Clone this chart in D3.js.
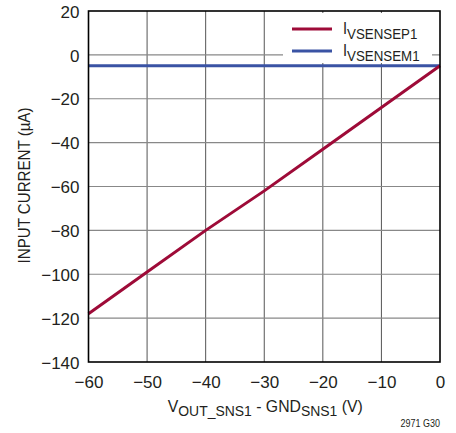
<!DOCTYPE html>
<html>
<head>
<meta charset="utf-8">
<script src="https://cdn.jsdelivr.net/npm/d3@7"></script>
<style>
  body { margin: 0; background: #fff; }
  text { font-family: "Liberation Sans Narrow", "Arial Narrow", "Liberation Sans", sans-serif; fill: #231f20; }
</style>
</head>
<body>
<script>
var voltage = [-60, -50, -40, -30, -20, -10, 0];
var iSenseP = [-118, -99, -80, -62, -43, -24, -5];
var iSenseM = [-5, -5, -5, -5, -5, -5, -5];
var xTicks = [-60, -50, -40, -30, -20, -10, 0];
var yTicks = [-140, -120, -100, -80, -60, -40, -20, 0, 20];

var svg = d3.select("body").append("svg").attr("width", 456).attr("height", 433),
    margin = {top: 11, right: 16, bottom: 71, left: 88.5},
    width = 456 - margin.left - margin.right,
    height = 433 - margin.top - margin.bottom,
    g = svg.append("g").attr("transform", "translate(" + margin.left + "," + margin.top + ")");

var x = d3.scaleLinear().domain([-60, 0]).range([0, width]),
    y = d3.scaleLinear().domain([-140, 20]).range([height, 0]);

function minus(v) { return String(v).replace("-", "\u2212"); }

// grid
g.selectAll(".vgrid").data(xTicks.slice(1, -1)).enter().append("line")
    .attr("x1", function(d) { return x(d); }).attr("x2", function(d) { return x(d); })
    .attr("y1", 0).attr("y2", height)
    .attr("stroke", "#555").attr("stroke-width", 1);
g.selectAll(".hgrid").data(yTicks.slice(1, -1)).enter().append("line")
    .attr("y1", function(d) { return y(d); }).attr("y2", function(d) { return y(d); })
    .attr("x1", 0).attr("x2", width)
    .attr("stroke", "#888").attr("stroke-width", 1.2);

// axes (labels only)
var xAxis = g.append("g").attr("transform", "translate(0," + height + ")")
    .call(d3.axisBottom(x).tickValues(xTicks).tickSize(0).tickPadding(10).tickFormat(minus));
var yAxis = g.append("g")
    .call(d3.axisLeft(y).tickValues(yTicks).tickSize(0).tickPadding(9).tickFormat(minus));
[xAxis, yAxis].forEach(function(a) {
  a.select(".domain").remove();
  a.selectAll("text").style("font-size", "17px").attr("fill", "#231f20")
    .style("font-family", "'Liberation Sans Narrow', 'Arial Narrow', sans-serif");
});
xAxis.selectAll("text").attr("dy", "0.95em");
yAxis.selectAll("text").attr("dy", "0.36em");

// legend background
var leg = g.append("g").attr("transform", "translate(" + (width - 157) + ",2)");
leg.append("rect").attr("x", 0).attr("y", 0).attr("width", 149).attr("height", 50).attr("fill", "#fff");

var line = d3.line()
    .x(function(d, i) { return x(voltage[i]); })
    .y(function(d) { return y(d); });

g.append("path").datum(iSenseM).attr("d", line)
    .attr("fill", "none").attr("stroke", "#3a53a4").attr("stroke-width", 3);
g.append("path").datum(iSenseP).attr("d", line)
    .attr("fill", "none").attr("stroke", "#9e0b38").attr("stroke-width", 3);

// frame
g.append("rect").attr("width", width).attr("height", height)
    .attr("fill", "none").attr("stroke", "#000").attr("stroke-width", 1.6);

// legend
var items = [{name: "VSENSEP1", color: "#9e0b38"}, {name: "VSENSEM1", color: "#3a53a4"}];
items.forEach(function(it, i) {
  var yy = 16 + i * 22;
  leg.append("line").attr("x1", 9).attr("x2", 49).attr("y1", yy).attr("y2", yy)
    .attr("stroke", it.color).attr("stroke-width", 3);
  var t = leg.append("text").attr("transform", "translate(60," + (yy + 5) + ") scale(0.86,1)")
    .style("font-size", "17px");
  t.append("tspan").text("I");
  t.append("tspan").attr("dy", 5).style("font-size", "15.5px").text(it.name);
});

// axis titles
svg.append("text")
    .attr("transform", "translate(30," + (margin.top + height / 2 - 1) + ") rotate(-90) scale(0.89,1)")
    .attr("text-anchor", "middle").style("font-size", "17px")
    .text("INPUT CURRENT (\u00b5A)");

var xt = svg.append("text")
    .attr("transform", "translate(" + (margin.left + width / 2 + 1) + ",412) scale(0.93,1)")
    .attr("text-anchor", "middle").style("font-size", "17px");
xt.append("tspan").text("V");
xt.append("tspan").attr("dy", 4).style("font-size", "15px").text("OUT_SNS1");
xt.append("tspan").attr("dy", -4).text(" - GND");
xt.append("tspan").attr("dy", 4).style("font-size", "15px").text("SNS1");
xt.append("tspan").attr("dy", -4).text(" (V)");

svg.append("text").attr("transform", "translate(440,427) scale(0.9,1)").attr("text-anchor", "end")
    .style("font-size", "10px").text("2971 G30");
</script>
</body>
</html>
